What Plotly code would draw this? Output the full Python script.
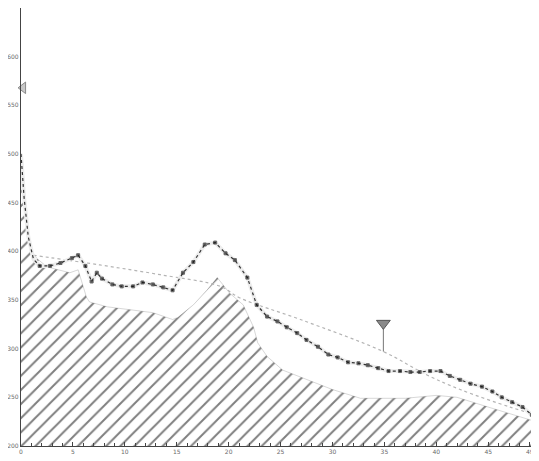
import plotly.graph_objects as go

# Measured profile (dotted line with square markers)
profile_x = [0, 0.3, 0.7, 1.2, 1.8, 2.8, 3.8, 4.9, 5.5, 6.2, 6.8, 7.3, 7.8, 8.8,
             9.7, 10.8, 11.7, 12.7, 13.7, 14.6, 15.6, 16.6, 17.7, 18.7, 19.7,
             20.6, 21.8, 22.7, 23.7, 24.7, 25.6, 26.6, 27.5, 28.6, 29.6, 30.5,
             31.5, 32.5, 33.4, 34.4, 35.4, 36.5, 37.5, 38.4, 39.4, 40.4, 41.3,
             42.3, 43.3, 44.4, 45.4, 46.3, 47.3, 48.3, 49.2]
profile_y = [500, 455, 415, 392, 385, 385, 388, 393, 396, 385, 369, 378, 372, 366,
             364, 364, 368, 366, 363, 360, 378, 389, 407, 409, 398,
             391, 373, 345, 333, 328, 322, 316, 309, 302, 294, 291,
             286, 285, 283, 280, 277, 277, 276, 276, 277, 277, 272,
             268, 264, 261, 256, 250, 245, 240, 232]

# Hatched lower envelope
floor_x = [0, 0.1, 0.6, 1.06, 1.5, 2.5, 4.7, 5.5, 6.3, 6.6, 8.3, 10.5, 12.7,
           14.6, 15.1, 16.6, 17.9, 18.9, 20.1, 21.4, 22.4, 22.8, 23.7, 25.2,
           27.2, 30.0, 32.7, 37.0, 40.0, 42.0, 45.0, 49.6]
floor_y = [500, 500, 422, 399, 393, 384, 378, 381, 353, 348, 343, 340, 337,
           330, 332, 345, 360, 373, 357, 345, 322, 306, 292, 278,
           270, 258, 249, 249, 252, 250, 240, 225]

# Smooth trend (light gray dotted)
trend_x = [1.2, 7.6, 13.4, 19.2, 21.1, 26.9, 34.9, 39.1, 42.3, 47.1, 49.3]
trend_y = [396, 386, 376, 364, 352, 330, 297, 273, 258, 240, 233]

# Flag markers
flag_left = (0.2, 568)
flag_right = (49.5, 263)
flag_down_x = 34.9
flag_down_top = 326
flag_down_base = 297

x_ticks = [0, 5, 10, 15, 20, 25, 30, 35, 40, 45, 49]
y_ticks = [200, 250, 300, 350, 400, 450, 500, 550, 600]

TICK_FONT = {'family': 'DejaVu Sans', 'size': 6, 'color': '#6a6a6a'}

fig = go.Figure()

# hatched area
fig.add_trace(go.Scatter(
    x=floor_x, y=floor_y, mode='lines', fill='tozeroy',
    line={'color': 'rgba(90,90,90,0.4)', 'width': 0.6},
    fillcolor='white',
    fillpattern={'shape': '/', 'fgcolor': '#000', 'bgcolor': 'white',
                 'size': 10, 'solidity': 0.2},
    hoverinfo='skip'
))

# trend
fig.add_trace(go.Scatter(
    x=trend_x, y=trend_y, mode='lines', line_shape='spline',
    line={'color': '#b4b4b4', 'width': 1.2, 'dash': 'dot'},
    hoverinfo='skip'
))

# halo under profile
fig.add_trace(go.Scatter(
    x=profile_x, y=profile_y, mode='lines',
    line={'color': '#ededed', 'width': 4},
    hoverinfo='skip'
))

# profile
marker_sizes = [0 if x < 1.5 else 3 for x in profile_x]
fig.add_trace(go.Scatter(
    x=profile_x, y=profile_y, mode='lines+markers',
    line={'color': '#333', 'width': 1.2, 'dash': 'dot'},
    marker={'symbol': 'square', 'size': marker_sizes, 'color': '#111'},
))

# down flag with stem
fig.add_trace(go.Scatter(
    x=[flag_down_x, flag_down_x], y=[flag_down_top, flag_down_base], mode='lines',
    line={'color': '#777', 'width': 1}, hoverinfo='skip'
))
fig.add_trace(go.Scatter(
    x=[flag_down_x], y=[flag_down_top], mode='markers',
    marker={'symbol': 'triangle-down', 'size': 12, 'color': '#8a8a8a',
            'line': {'color': '#555', 'width': 1}},
    hoverinfo='skip'
))
fig.add_trace(go.Scatter(
    x=[flag_left[0], flag_right[0]], y=[flag_left[1], flag_right[1]], mode='markers',
    marker={'symbol': ['triangle-left', 'triangle-right'], 'size': 10,
            'color': '#c8c8c8', 'line': {'color': '#888', 'width': 1}},
    cliponaxis=False, hoverinfo='skip'
))

fig.add_shape(type='line', xref='paper', yref='paper', x0=1, x1=1, y0=0, y1=1,
              line={'color': '#d0d0d0', 'width': 1})

# page body keeps an 8px margin, so the figure is 8px smaller on each axis
fig.update_layout(
    width=531, height=453,
    margin={'l': 13, 'r': 3, 't': 0, 'b': 15},
    plot_bgcolor='white', paper_bgcolor='white',
    showlegend=False,
    font=TICK_FONT,
    xaxis={
        'range': [0, 49.6], 'tickvals': x_ticks,
        'ticktext': [str(v) for v in x_ticks],
        'tickfont': TICK_FONT, 'automargin': False,
        'showgrid': False, 'zeroline': False,
        'showline': True, 'linecolor': '#444', 'linewidth': 1.2,
        'mirror': True,
        'ticks': 'inside', 'ticklen': 4, 'tickcolor': '#444',
        'minor': {'dtick': 1, 'ticks': 'inside', 'ticklen': 3, 'tickcolor': '#444'},
    },
    yaxis={
        'range': [200, 650], 'tickvals': y_ticks,
        'tickfont': TICK_FONT, 'automargin': False,
        'showgrid': False, 'zeroline': False,
        'showline': True, 'linecolor': '#444', 'linewidth': 1.4,
        'ticks': '',
    },
)

fig.write_html("out.html")
